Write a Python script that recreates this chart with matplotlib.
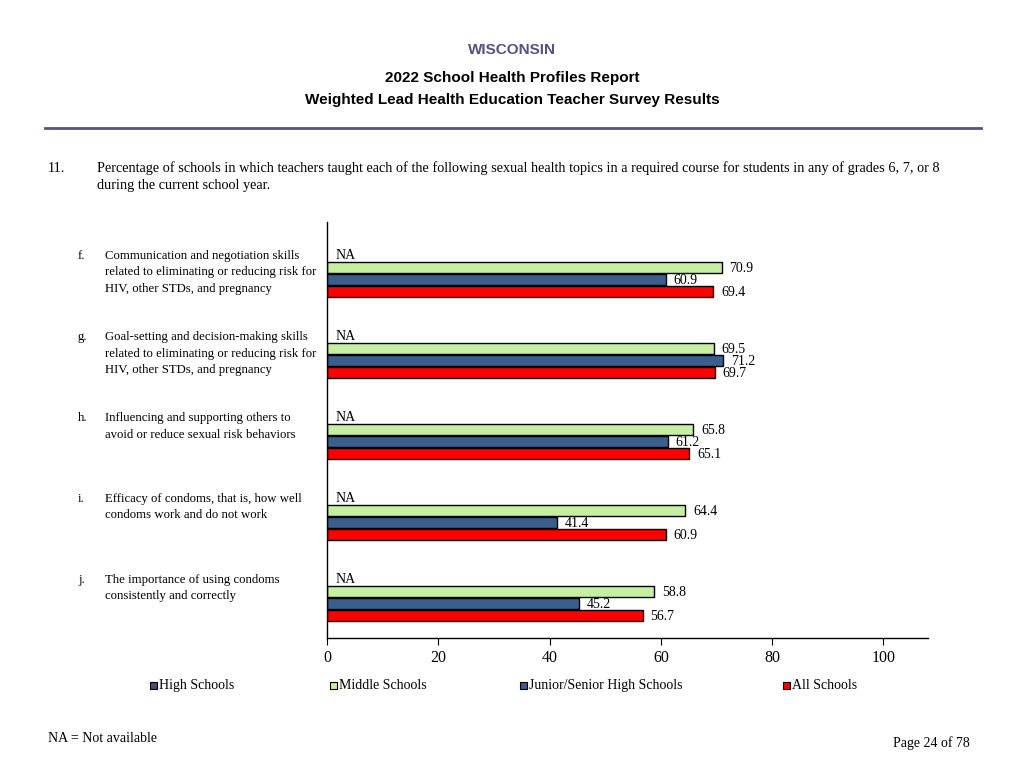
import numpy as np
import matplotlib.pyplot as plt
from matplotlib.patches import Rectangle

# Datos (High Schools = NA en todas las categorías)
letters = ['f.', 'g.', 'h.', 'i.', 'j.']
topics = [
    'Communication and negotiation skills\nrelated to eliminating or reducing risk for\nHIV, other STDs, and pregnancy',
    'Goal-setting and decision-making skills\nrelated to eliminating or reducing risk for\nHIV, other STDs, and pregnancy',
    'Influencing and supporting others to\navoid or reduce sexual risk behaviors',
    'Efficacy of condoms, that is, how well\ncondoms work and do not work',
    'The importance of using condoms\nconsistently and correctly',
]
series_names = ['High Schools', 'Middle Schools', 'Junior/Senior High Schools', 'All Schools']
high = [None, None, None, None, None]
middle = [70.9, 69.5, 65.8, 64.4, 58.8]
jrsr = [60.9, 71.2, 61.2, 41.4, 45.2]
all_schools = [69.4, 69.7, 65.1, 60.9, 56.7]
colors = ['#4a4a78', '#c6efa2', '#3a5f8f', '#ff0000']
xticks = [0, 20, 40, 60, 80, 100]

serif = 'Liberation Serif'
sans = 'Liberation Sans'

fig = plt.figure(figsize=(10.24, 7.68), dpi=100)
ax = fig.add_axes([327 / 1024, 1 - 638 / 768, 601 / 1024, 416 / 768])

# --- Barras ---
group_step = 81
slot = 12
first = 33.5
series = [high, middle, jrsr, all_schools]
for s, (vals, col) in enumerate(zip(series, colors)):
    for g, v in enumerate(vals):
        y = first + g * group_step + s * slot
        if v is None:
            ax.text(1.6, y, 'NA', fontsize=10, family=serif, va='center', ha='left')
            continue
        ax.barh(y, v, height=11.5, color=col, edgecolor='black', linewidth=1.0)
        ax.text(v + 1.4, y + 1, f'{v:.1f}', fontsize=10, family=serif,
                va='center', ha='left')

ax.set_ylim(416, 0)
ax.set_xlim(0, 108)
ax.set_xticks(xticks)
ax.set_xticklabels([str(t) for t in xticks], family=serif, fontsize=11.5)
ax.tick_params(axis='x', direction='out', length=5, pad=4)
ax.set_yticks([])
for side in ['top', 'right']:
    ax.spines[side].set_visible(False)
ax.spines['left'].set_linewidth(1.0)
ax.spines['bottom'].set_linewidth(1.0)

# --- Etiquetas de categoría ---
tr = ax.get_yaxis_transform()
for g, (let, txt) in enumerate(zip(letters, topics)):
    ytop = 28 + g * group_step
    ax.text(-249 / 601, ytop, let, transform=tr, fontsize=9.2, family=serif,
            va='top', ha='left', clip_on=False)
    ax.text(-222 / 601, ytop, txt, transform=tr, fontsize=9.2, family=serif,
            va='top', ha='left', linespacing=1.5, clip_on=False)

# --- Encabezado ---
fig.text(0.5, 1 - 50 / 768, 'WISCONSIN', color='#5a4e86', fontsize=11,
         fontweight='bold', family=sans, ha='center', va='center')
fig.text(0.5, 1 - 78 / 768, '2022 School Health Profiles Report', fontsize=11,
         fontweight='bold', family=sans, ha='center', va='center')
fig.text(0.5, 1 - 100 / 768, 'Weighted Lead Health Education Teacher Survey Results',
         fontsize=11, fontweight='bold', family=sans, ha='center', va='center')
fig.add_artist(plt.Line2D([45 / 1024, 981 / 1024], [1 - 128 / 768, 1 - 128 / 768],
                          color='#5b5080', linewidth=2))

fig.text(48 / 1024, 1 - 168 / 768, '11.', fontsize=10.3, family=serif, va='center')
fig.text(97 / 1024, 1 - 168 / 768,
         'Percentage of schools in which teachers taught each of the following sexual health topics '
         'in a required course for students in any of grades 6, 7, or 8',
         fontsize=10.3, family=serif, va='center')
fig.text(97 / 1024, 1 - 185 / 768, 'during the current school year.',
         fontsize=10.3, family=serif, va='center')

# --- Leyenda (manual, para respetar las posiciones del original) ---
leg_x = [150, 330, 520, 783]
leg_y = 1 - 689 / 768
sq_w, sq_h = 7 / 1024, 7 / 768
for name, col, x in zip(series_names, colors, leg_x):
    fig.add_artist(Rectangle((x / 1024, leg_y), sq_w, sq_h, facecolor=col,
                             edgecolor='black', linewidth=0.8, transform=fig.transFigure))
    fig.text((x + 9) / 1024, leg_y, name, fontsize=10, family=serif,
             va='baseline', ha='left')

fig.text(48 / 1024, 1 - 739 / 768, 'NA = Not available', fontsize=10, family=serif, va='center')
fig.text(970 / 1024, 1 - 743 / 768, 'Page 24 of 78', fontsize=10, family=serif,
         va='center', ha='right')

fig.savefig('out.png', dpi=100)
